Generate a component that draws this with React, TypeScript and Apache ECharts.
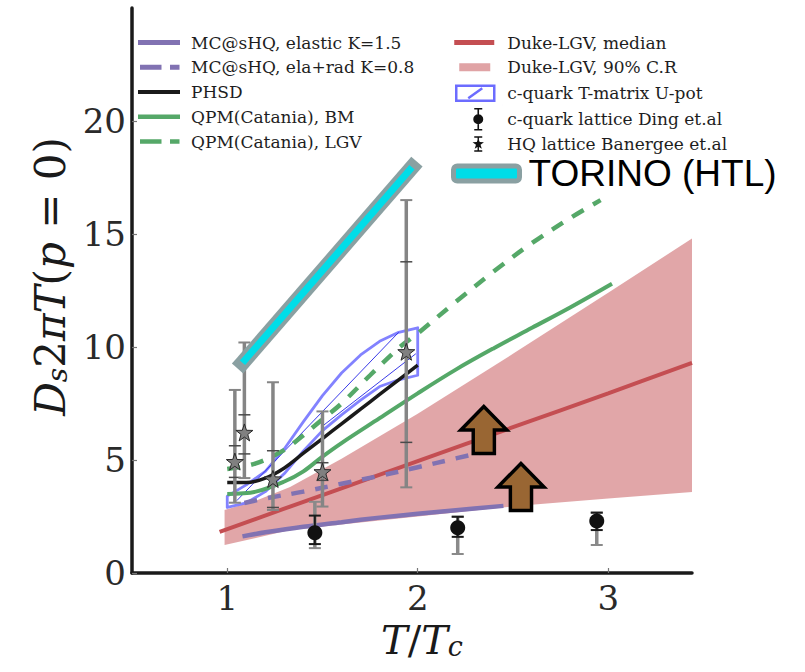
import React, { useEffect, useRef } from 'react';
import * as echarts from 'echarts';

// ---------- axis ticks ----------
const X_TICKS = [1, 2, 3];
const Y_TICKS = [0, 5, 10, 15, 20];

// ---------- series values (x = T/Tc, y = Ds 2piT) ----------
const mcElastic = [[1.08, 1.62], [1.2, 1.8], [1.4, 2.05], [1.6, 2.25], [1.8, 2.45], [2.0, 2.62], [2.2, 2.78], [2.45, 2.97]];
const mcElaRad = [[1.09, 3.1], [1.2, 3.3], [1.4, 3.6], [1.6, 3.95], [1.8, 4.3], [2.0, 4.68], [2.2, 5.07], [2.43, 5.52]];
const phsd = [[1.0, 4.0], [1.1, 4.0], [1.2, 4.2], [1.3, 4.65], [1.4, 5.3], [1.5, 5.95], [1.6, 6.6], [1.7, 7.25], [1.8, 7.9], [1.9, 8.55], [2.0, 9.2]];
const qpmBM = [[1.0, 3.5], [1.15, 3.6], [1.3, 4.05], [1.4, 4.5], [1.5, 5.15], [1.6, 5.75], [1.8, 6.85], [2.0, 7.95], [2.2, 9.0], [2.4, 9.95], [2.6, 10.85], [2.8, 11.75], [3.02, 12.8]];
const qpmLGV = [[1.0, 4.6], [1.15, 4.85], [1.3, 5.45], [1.4, 6.1], [1.5, 6.8], [1.6, 7.5], [1.75, 8.75], [1.9, 9.95], [2.0, 10.6], [2.2, 12.0], [2.4, 13.35], [2.6, 14.6], [2.8, 15.7], [2.96, 16.5]];
const dukeMedian = [[0.96, 1.82], [1.5, 3.45], [2.0, 4.95], [2.5, 6.45], [3.0, 7.95], [3.44, 9.3]];
const dukeUpper = [[0.986, 2.79], [1.15, 3.2], [1.33, 3.8], [1.6, 5.05], [2.0, 7.05], [2.5, 9.7], [3.0, 12.4], [3.44, 14.8]];
const dukeLower = [[0.986, 1.24], [1.15, 1.55], [1.33, 1.9], [1.6, 2.15], [2.0, 2.5], [2.5, 2.95], [3.0, 3.3], [3.44, 3.58]];
const tmUpper = [[1.0, 3.4], [1.1, 3.9], [1.2, 4.5], [1.3, 5.5], [1.4, 6.7], [1.5, 7.85], [1.6, 8.85], [1.7, 9.65], [1.8, 10.25], [1.9, 10.65], [2.0, 10.85]];
const tmLower = [[1.0, 2.9], [1.1, 3.1], [1.2, 3.6], [1.3, 4.4], [1.4, 5.4], [1.5, 6.3], [1.6, 7.0], [1.7, 7.65], [1.8, 8.25], [1.9, 8.55], [2.0, 8.75]];
const tmHatchA = [[1.05, 3.2], [1.9, 10.65]];
const tmHatchB = [[1.5, 6.5], [1.99, 9.7]];
// Ding: [x, y, statLo, statHi, sysLo, sysHi]
const dingData = [[1.46, 1.78, 1.28, 2.54, 1.1, 3.15], [2.21, 2.0, 1.6, 2.49, 0.84, 2.49], [2.94, 2.3, 1.9, 2.67, 1.24, 2.67]];
// Banerjee: [x, y, outerLo, outerHi, innerLo, innerHi]
const banerjeeData = [
  [1.04, 4.93, 3.11, 8.1, 4.23, 5.63],
  [1.09, 6.22, 4.2, 10.2, 5.27, 7.0],
  [1.24, 4.16, 2.79, 8.44, 2.9, 5.41],
  [1.5, 4.48, 2.94, 7.15, 4.1, 4.88],
  [1.94, 9.79, 3.79, 16.5, 5.78, 13.77],
];
const torino = [[1.08, 9.3], [1.97, 17.95]];
const arrowPoints = [[2.347, 6.33], [2.542, 3.81]];

// ---------- names ----------
const N_MC_EL = 'MC@sHQ, elastic K=1.5';
const N_MC_ER = 'MC@sHQ, ela+rad K=0.8';
const N_PHSD = 'PHSD';
const N_QPM_BM = 'QPM(Catania), BM';
const N_QPM_LGV = 'QPM(Catania), LGV';
const N_DUKE_MED = 'Duke-LGV, median';
const N_DUKE_CR = 'Duke-LGV, 90% C.R';
const N_TM = 'c-quark T-matrix U-pot';
const N_DING = 'c-quark lattice Ding et.al';
const N_BAN = 'HQ lattice Banergee et.al';
const N_TORINO = 'TORINO (HTL)';

// ---------- colors ----------
const PURPLE = '#8172b2';
const GREEN = '#55a868';
const RED = '#c44e52';
const BLACK = '#1a1a1a';
const TM_BLUE = '#6c6cff';
const CYAN = '#00dde8';
const TGRAY = '#8aa0a2';
const BROWN = '#996633';

const CORNERS = 'M0,0 L0.01,0 Z M48,24 L47.99,24 Z ';
const barIcon = (x0: number, x1: number, y0: number, h: number) =>
  `path://${CORNERS}M${x0},${y0} H${x1} V${y0 + h} H${x0} Z`;
const dashIcon = (y0: number, h: number) =>
  `path://${CORNERS}M2,${y0} H23.5 V${y0 + h} H2 Z M32,${y0} H41.5 V${y0 + h} H32 Z`;
const TM_ICON = `path://${CORNERS}M2,4.5 H40 V19.5 H2 Z M14,17 L28,7`;
const DING_ICON = `path://${CORNERS}M20,0.8 H28 V2.3 H20 Z M20,21.7 H28 V23.2 H20 Z M23.2,1 H24.8 V23 H23.2 Z M19,12 A5,5 0 1,1 29,12 A5,5 0 1,1 19,12 Z`;
const BAN_ICON = `path://${CORNERS}M20,4.3 H28 V5.7 H20 Z M20,18.3 H28 V19.7 H20 Z M23.3,5 H24.7 V19 H23.3 Z M24,6 L25.41,10.06 L29.71,10.15 L26.28,12.74 L27.53,16.85 L24,14.4 L20.47,16.85 L21.72,12.74 L18.29,10.15 L22.59,10.06 Z`;
const STAR = 'path://M12,0 L14.82,8.12 L23.41,8.29 L16.56,13.48 L19.05,21.71 L12,16.8 L4.95,21.71 L7.44,13.48 L0.59,8.29 L9.18,8.12 Z';
const ARROW = 'path://M25,0 L50,25 L36.5,25 L36.5,50 L13.5,50 L13.5,25 L0,25 Z';

const SERIF = 'DejaVu Serif';

function bandRender(_p: any, api: any) {
  const pts = dukeUpper.map((d) => api.coord(d)).concat(dukeLower.slice().reverse().map((d) => api.coord(d)));
  return { type: 'polygon', shape: { points: pts, smooth: 0 }, style: { fill: RED, opacity: 0.5 } };
}

function tmRender(_p: any, api: any) {
  const pts = tmUpper.map((d) => api.coord(d)).concat(tmLower.slice().reverse().map((d) => api.coord(d)));
  return {
    type: 'group',
    children: [
      { type: 'polygon', shape: { points: pts }, style: { fill: 'none', stroke: TM_BLUE, lineWidth: 2.8, lineJoin: 'round', opacity: 0.85 } },
      { type: 'polyline', shape: { points: tmHatchA.map((d) => api.coord(d)) }, style: { fill: 'none', stroke: '#3a3ae8', lineWidth: 1 } },
      { type: 'polyline', shape: { points: tmHatchB.map((d) => api.coord(d)) }, style: { fill: 'none', stroke: '#3a3ae8', lineWidth: 1 } },
    ],
  };
}

function capLine(p: number[], hw: number, color: string, w: number) {
  return { type: 'line', shape: { x1: p[0] - hw, y1: p[1], x2: p[0] + hw, y2: p[1] }, style: { stroke: color, lineWidth: w } };
}

function banerjeeRender(_p: any, api: any) {
  const x = api.value(0);
  const lo = api.coord([x, api.value(2)]);
  const hi = api.coord([x, api.value(3)]);
  const ilo = api.coord([x, api.value(4)]);
  const ihi = api.coord([x, api.value(5)]);
  return {
    type: 'group',
    children: [
      { type: 'line', shape: { x1: lo[0], y1: lo[1], x2: hi[0], y2: hi[1] }, style: { stroke: '#858585', lineWidth: 3.5 } },
      capLine(lo, 6, '#858585', 2),
      capLine(hi, 6, '#858585', 2),
      capLine(ilo, 6, '#4a4a4a', 1.5),
      capLine(ihi, 6, '#4a4a4a', 1.5),
    ],
  };
}

function dingRender(_p: any, api: any) {
  const x = api.value(0);
  const slo = api.coord([x, api.value(2)]);
  const shi = api.coord([x, api.value(3)]);
  const ylo = api.coord([x, api.value(4)]);
  const yhi = api.coord([x, api.value(5)]);
  return {
    type: 'group',
    children: [
      { type: 'line', shape: { x1: ylo[0], y1: ylo[1], x2: yhi[0], y2: yhi[1] }, style: { stroke: '#8a8a8a', lineWidth: 3.5 } },
      capLine(ylo, 6, '#8a8a8a', 2),
      capLine(yhi, 6, '#8a8a8a', 2),
      { type: 'line', shape: { x1: slo[0], y1: slo[1], x2: shi[0], y2: shi[1] }, style: { stroke: BLACK, lineWidth: 2 } },
      capLine(slo, 6, BLACK, 2),
      capLine(shi, 6, BLACK, 2),
    ],
  };
}

const lineSeries = (name: string, data: number[][], color: string, width: number, dashed = false, z = 3) => ({
  type: 'line',
  name,
  data,
  showSymbol: false,
  symbol: 'none',
  smooth: 0.35,
  z,
  itemStyle: { color },
  lineStyle: { color, width, type: dashed ? [13, 11] : 'solid', cap: 'butt' },
});

const legendText = { fontFamily: SERIF, fontSize: 17, color: '#1e1e1e', lineHeight: 20 };

const option: any = {
  animation: false,
  backgroundColor: '#ffffff',
  grid: { left: 132, right: 113, top: 8, bottom: 99, outerBoundsMode: 'none' },
  xAxis: {
    type: 'value',
    min: 0.5,
    max: 3.44,
    axisLine: { show: true, onZero: false, lineStyle: { color: BLACK, width: 3.5 } },
    axisTick: { show: true, inside: true, length: 5, customValues: X_TICKS, lineStyle: { color: '#777', width: 1.2 } },
    axisLabel: { customValues: X_TICKS, margin: 8, fontFamily: SERIF, fontSize: 34, color: '#2a2a2a' },
    splitLine: { show: false },
    name: '{i|T}{r|/}{i|T}{s|c}',
    nameLocation: 'middle',
    nameGap: 47,
    nameTextStyle: {
      fontFamily: SERIF,
      fontSize: 40,
      color: '#1a1a1a',
      padding: [0, 0, 0, 20],
      rich: {
        i: { fontFamily: SERIF, fontStyle: 'italic', fontSize: 40, color: '#1a1a1a' },
        r: { fontFamily: SERIF, fontSize: 40, color: '#1a1a1a' },
        s: { fontFamily: SERIF, fontStyle: 'italic', fontSize: 27, color: '#1a1a1a', verticalAlign: 'bottom' },
      },
    },
  },
  yAxis: {
    type: 'value',
    min: 0,
    max: 25,
    axisLine: { show: true, onZero: false, lineStyle: { color: BLACK, width: 3.5 } },
    axisTick: { show: true, inside: true, length: 5, customValues: Y_TICKS, lineStyle: { color: '#777', width: 1.2 } },
    axisLabel: { customValues: Y_TICKS, margin: 6, fontFamily: SERIF, fontSize: 34, color: '#2a2a2a' },
    splitLine: { show: false },
    name: '{i|D}{s|s}{r|2}{i|πT}{r|(}{i|p}{r| = 0)}',
    nameLocation: 'middle',
    nameRotate: 90,
    nameGap: 46,
    nameTextStyle: {
      fontFamily: SERIF,
      fontSize: 42,
      color: '#1a1a1a',
      padding: [0, 0, 0, 28],
      rich: {
        i: { fontFamily: SERIF, fontStyle: 'italic', fontSize: 42, color: '#1a1a1a' },
        r: { fontFamily: SERIF, fontSize: 42, color: '#1a1a1a' },
        s: { fontFamily: SERIF, fontStyle: 'italic', fontSize: 28, color: '#1a1a1a', verticalAlign: 'bottom' },
      },
    },
  },
  legend: [
    {
      left: 138, top: 30.5, orient: 'vertical', padding: 0, itemGap: 0.75, itemWidth: 48, itemHeight: 24,
      selectedMode: false, textStyle: legendText, itemStyle: { borderWidth: 0 },
      data: [
        { name: N_MC_EL, icon: barIcon(0, 42, 9.5, 5) },
        { name: N_MC_ER, icon: dashIcon(9.5, 5) },
        { name: N_PHSD, icon: barIcon(0, 42, 10, 4) },
        { name: N_QPM_BM, icon: barIcon(0, 42, 9.75, 4.5) },
        { name: N_QPM_LGV, icon: dashIcon(9.75, 4.5) },
      ],
    },
    {
      left: 453, top: 30.5, orient: 'vertical', padding: 0, itemGap: 0.75, itemWidth: 48, itemHeight: 24,
      selectedMode: false, textStyle: legendText, itemStyle: { borderWidth: 0 },
      data: [
        { name: N_DUKE_MED, icon: barIcon(0, 40, 9.5, 5) },
        { name: N_DUKE_CR, icon: barIcon(5, 36, 8, 8), itemStyle: { color: '#e0a3a5' } },
        { name: N_TM, icon: TM_ICON, itemStyle: { color: 'rgba(0,0,0,0)', borderColor: TM_BLUE, borderWidth: 2.5 } },
        { name: N_DING, icon: DING_ICON, itemStyle: { color: '#111' } },
        { name: N_BAN, icon: BAN_ICON, itemStyle: { color: '#111' } },
      ],
    },
    {
      left: 451, top: 155, orient: 'vertical', padding: 0, itemWidth: 66, itemHeight: 15,
      selectedMode: false,
      textStyle: { fontFamily: 'Liberation Sans', fontSize: 37, color: '#000', lineHeight: 30, padding: [0, 0, 0, 4] },
      data: [{ name: N_TORINO, icon: 'roundRect', itemStyle: { color: CYAN, borderColor: TGRAY, borderWidth: 5 } }],
    },
  ],
  series: [
    { type: 'custom', name: N_DUKE_CR, coordinateSystem: 'cartesian2d', renderItem: bandRender, data: [[1, 2]], encode: { x: 0, y: 1 }, z: 1, itemStyle: { color: '#e0a3a5' } },
    lineSeries(N_DUKE_MED, dukeMedian, RED, 4),
    lineSeries(N_MC_EL, mcElastic, PURPLE, 4.5),
    lineSeries(N_MC_ER, mcElaRad, PURPLE, 4.5, true),
    { type: 'custom', name: N_TM, coordinateSystem: 'cartesian2d', renderItem: tmRender, data: [[1.5, 7]], encode: { x: 0, y: 1 }, z: 2, itemStyle: { color: TM_BLUE } },
    lineSeries(N_QPM_BM, qpmBM, GREEN, 4),
    lineSeries(N_QPM_LGV, qpmLGV, GREEN, 4.5, true),
    lineSeries(N_PHSD, phsd, BLACK, 3.5),
    { type: 'custom', name: N_DING, coordinateSystem: 'cartesian2d', renderItem: dingRender, data: dingData, encode: { x: 0, y: 1 }, z: 5, itemStyle: { color: BLACK } },
    { type: 'scatter', name: N_DING, data: dingData.map((d) => [d[0], d[1]]), symbol: 'circle', symbolSize: 15, z: 6, itemStyle: { color: '#111', opacity: 1 } },
    { type: 'custom', name: N_BAN, coordinateSystem: 'cartesian2d', renderItem: banerjeeRender, data: banerjeeData, encode: { x: 0, y: 1 }, z: 5, itemStyle: { color: '#808080' } },
    { type: 'scatter', name: N_BAN, data: banerjeeData.map((d) => [d[0], d[1]]), symbol: STAR, symbolSize: 17, z: 6, itemStyle: { color: '#808080', borderColor: '#2a2a2a', borderWidth: 1, opacity: 1 } },
    { type: 'line', name: 'TORINO-outline', data: torino, showSymbol: false, symbol: 'none', z: 7, lineStyle: { color: TGRAY, width: 15, cap: 'square' }, itemStyle: { color: TGRAY } },
    { type: 'line', name: N_TORINO, data: torino, showSymbol: false, symbol: 'none', z: 8, lineStyle: { color: CYAN, width: 7, cap: 'butt' }, itemStyle: { color: CYAN } },
    { type: 'scatter', name: 'arrows', data: arrowPoints, symbol: ARROW, symbolSize: [46, 47], z: 9, itemStyle: { color: BROWN, borderColor: '#000', borderWidth: 3.5, opacity: 1 } },
  ],
};

export default function App() {
  const ref = useRef<HTMLDivElement>(null);
  useEffect(() => {
    document.body.style.margin = '0';
    const chart = echarts.init(ref.current as HTMLDivElement, null, { renderer: 'svg' });
    chart.setOption(option);
    return () => chart.dispose();
  }, []);
  return <div ref={ref} style={{ width: 805, height: 672 }} />;
}
